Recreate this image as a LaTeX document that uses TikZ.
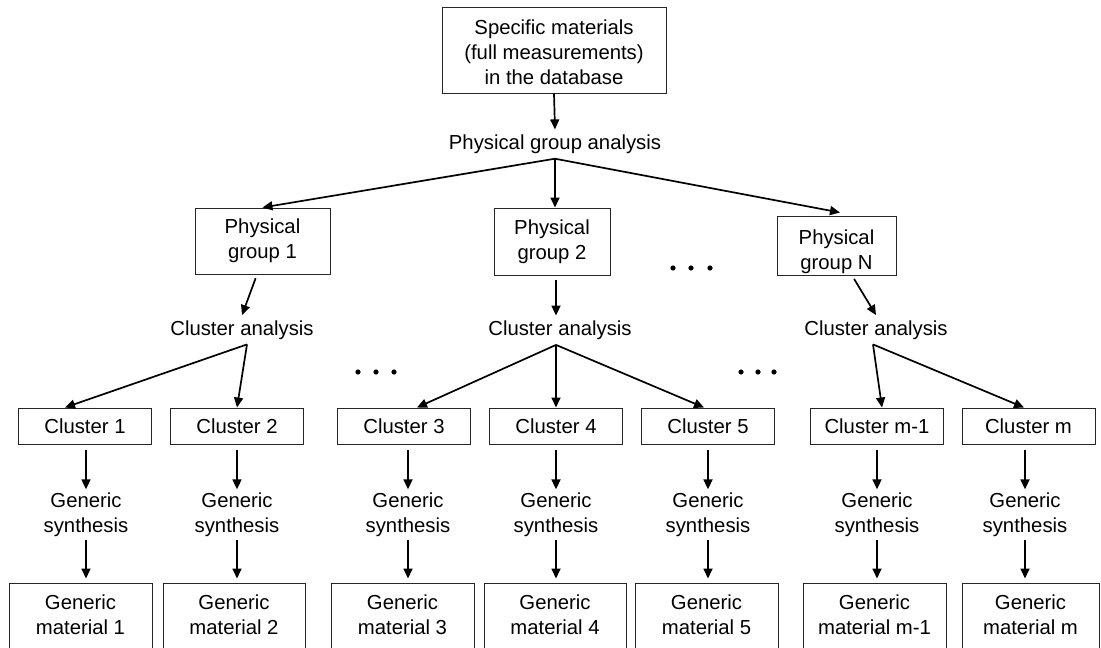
\documentclass[tikz,border=0pt]{standalone}
\usepackage{fontspec}
\setmainfont{Liberation Sans}
\usetikzlibrary{arrows.meta}
\newcommand{\uprule}[1]{\rule{0pt}{#1}}
\newcommand{\dnrule}[1]{\rule[-#1]{0pt}{#1}}
\begin{document}
\begin{tikzpicture}[x=1pt,y=-1pt,
  every node/.style={font=\fontsize{20.3}{25}\selectfont, align=center},
  box/.style={draw=black!85, line width=1pt, inner sep=0pt},
  lbl/.style={inner xsep=0pt, inner ysep=5pt},
  gslbl/.style={inner xsep=0pt, inner ysep=3pt},
  arr/.style={line width=1.7pt, -{Triangle[length=10pt,width=9pt]}},
  ]
\useasboundingbox (0,0) rectangle (1101,648);
\clip (0,0) rectangle (1101,648);

\node[box, minimum width=224pt, minimum height=86pt] (top) at (554,50)
  {\uprule{18.8pt}Specific materials\\(full measurements)\\in the database};
\node[lbl, anchor=base] (pga) at (555,149.3) {Physical group analysis};

\node[box, minimum width=135pt, minimum height=66pt] (pg1) at (262.5,241) {Physical\\group 1};
\node[box, minimum width=116pt, minimum height=67pt] (pg2) at (552,241.5) {Physical\\group 2};
\node[box, minimum width=119pt, minimum height=59pt] (pgn) at (836.5,245.5) {\uprule{26.5pt}Physical\\group N};

\node[lbl, anchor=base] (ca1) at (242,335) {Cluster analysis};
\node[lbl, anchor=base] (ca2) at (560,335.5) {Cluster analysis};
\node[lbl, anchor=base] (can) at (876,335) {Cluster analysis};

\draw[arr] (top.south) -- (pga.north);
\draw[arr] (pga.south) -- (pg1.north);
\draw[arr] (pga.south) -- (pga.south |- pg2.north);
\draw[arr] (pga.south) -- ([shift={(3.5pt,3pt)}]pgn.north);

\draw[arr, shorten <=4pt] ([xshift=-5.5pt]pg1.south) -- (ca1.north);
\draw[arr, shorten <=4pt] ([xshift=4pt]pg2.south) -- ([xshift=-4pt]ca2.north);
\draw[arr, shorten <=4pt] ([xshift=15.5pt]pgn.south) -- (can.north);

\foreach \i/\cx/\ax/\gx/\gw/\lab in {1/85/86/80.5/143/1, 2/237/237/234/142/2,
   3/404/408/402.5/143/3, 4/556/556/555/142/4, 5/708/708/706.5/143/5,
   m1/877/877/874.5/143/m-1, m/1028.5/1025/1030.5/137/m} {
  \node[box, minimum width=133pt, minimum height=36pt] (c\i) at (\cx,426) {Cluster \lab};
  \node[gslbl] (gs\i) at (\ax,514.5) {Generic\\synthesis};
  \node[box, minimum width=\gw pt, minimum height=70pt] (gm\i) at (\gx,618)
    {Generic\\material \lab\dnrule{7pt}};
  \draw[arr, shorten <=5pt] (gs\i.north |- c\i.south) -- (gs\i.north);
  \draw[arr, shorten >=4pt] (gs\i.south) -- (gs\i.south |- gm\i.north);
}

\draw[arr] ([xshift=5pt]ca1.south) -- ([xshift=-20pt]c1.north);
\draw[arr] ([xshift=5pt]ca1.south) -- (c2.north);
\draw[arr] ([xshift=-4pt]ca2.south) -- ([xshift=13pt]c3.north);
\draw[arr] ([xshift=-4pt]ca2.south) -- (c4.north);
\draw[arr] ([xshift=-4pt]ca2.south) -- ([xshift=-4pt]c5.north);
\draw[arr] ([xshift=-3pt]can.south) -- ([xshift=5pt]cm1.north);
\draw[arr] ([xshift=-3pt]can.south) -- ([xshift=-4.5pt]cm.north);

\foreach \x in {673,691,710} \fill (\x,268) circle[radius=2.6pt];
\foreach \x in {358,376,394} \fill (\x,372) circle[radius=2.6pt];
\foreach \x in {741,758,774} \fill (\x,372) circle[radius=2.6pt];
\end{tikzpicture}
\end{document}
